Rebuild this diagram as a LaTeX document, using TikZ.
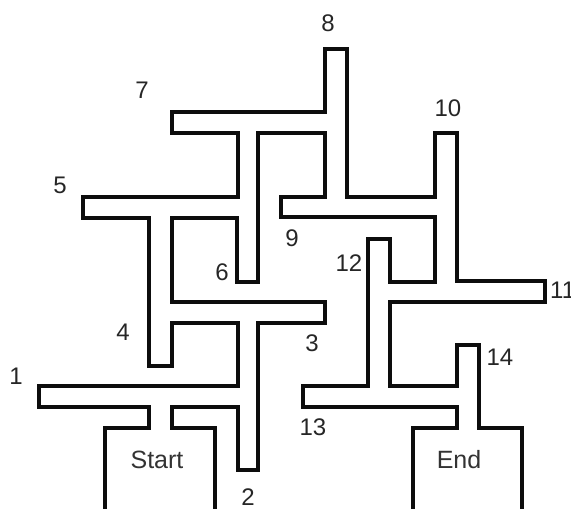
\documentclass[tikz,border=0pt]{standalone}
\usepackage{fontspec}
\setmainfont{Liberation Sans}
\begin{document}
\begin{tikzpicture}[x=1pt,y=-1pt,
  wall/.style={line width=4.5pt,line join=miter,black!95},
  lbl/.style={font=\fontsize{24}{24}\selectfont,inner sep=0pt,text=black!85},
  boxlbl/.style={font=\fontsize{25}{25}\selectfont,inner sep=0pt,text=black!80}]
\useasboundingbox (0,0) rectangle (571,509);
\clip (0,0) rectangle (571,509);
% wall A
\draw[wall] (105,515) -- (105,428) -- (149,428) -- (149,407) -- (39,407) -- (39,386)
  -- (238,386) -- (238,323) -- (172,323) -- (172,366) -- (149,366) -- (149,218)
  -- (83,218) -- (83,197) -- (238,197) -- (238,133) -- (172,133) -- (172,112)
  -- (325,112) -- (325,49) -- (347,49) -- (347,197) -- (435,197) -- (435,133)
  -- (457,133) -- (457,281) -- (545,281) -- (545,302) -- (390,302) -- (390,386)
  -- (457,386) -- (457,345) -- (479,345) -- (479,428) -- (522,428) -- (522,515);
% wall B
\draw[wall] (215,515) -- (215,428) -- (172,428) -- (172,407) -- (238,407) -- (238,470)
  -- (258,470) -- (258,323) -- (325,323) -- (325,302) -- (172,302) -- (172,218)
  -- (237,218) -- (237,282) -- (258,282) -- (258,133) -- (325,133) -- (325,197)
  -- (281,197) -- (281,217) -- (435,217) -- (435,282) -- (390,282) -- (390,239)
  -- (368,239) -- (368,386) -- (303,386) -- (303,407) -- (457,407) -- (457,428)
  -- (413,428) -- (413,515);
% labels
\node[lbl] (n1) at (16,376) {1};
\node[lbl] (n2) at (248,497) {2};
\node[lbl] (n3) at (312,343) {3};
\node[lbl] (n4) at (123,332) {4};
\node[lbl] (n5) at (60,185) {5};
\node[lbl] (n6) at (222,272) {6};
\node[lbl] (n7) at (142,90) {7};
\node[lbl] (n8) at (328,23) {8};
\node[lbl] (n9) at (292,238) {9};
\node[lbl] (n10) at (448,108) {10};
\node[lbl,anchor=west] (n11) at (550,290) {11};
\node[lbl] (n12) at (349,263) {12};
\node[lbl] (n13) at (313,427) {13};
\node[lbl] (n14) at (500,357) {14};
\node[boxlbl] (start) at (157,460) {Start};
\node[boxlbl] (end) at (459,460) {End};
\end{tikzpicture}
\end{document}
